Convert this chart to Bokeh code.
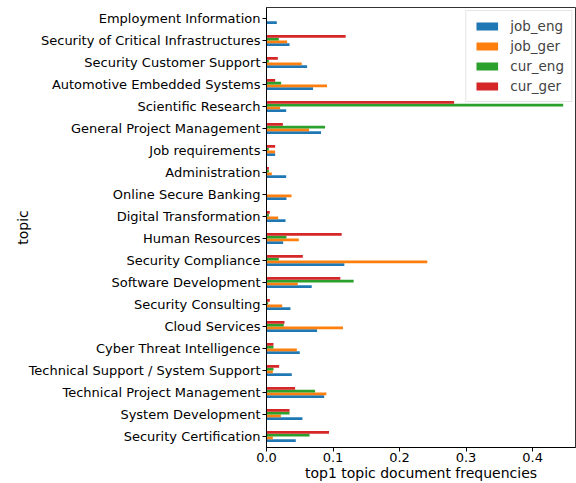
from bokeh.plotting import figure
from bokeh.models import ColumnDataSource, FactorRange, Range1d, FixedTicker, PrintfTickFormatter, Legend, LegendItem
from bokeh.transform import dodge
from bokeh.embed import file_html
from bokeh.resources import INLINE

topics = [
    "Employment Information",
    "Security of Critical Infrastructures",
    "Security Customer Support",
    "Automotive Embedded Systems",
    "Scientific Research",
    "General Project Management",
    "Job requirements",
    "Administration",
    "Online Secure Banking",
    "Digital Transformation",
    "Human Resources",
    "Security Compliance",
    "Software Development",
    "Security Consulting",
    "Cloud Services",
    "Cyber Threat Intelligence",
    "Technical Support / System Support",
    "Technical Project Management",
    "System Development",
    "Security Certification",
]

job_eng = [0.0155, 0.0346, 0.061, 0.070, 0.0296, 0.082, 0.013, 0.0296, 0.030, 0.0286,
           0.025, 0.117, 0.068, 0.036, 0.076, 0.050, 0.038, 0.0867, 0.054, 0.044]
job_ger = [0.0, 0.031, 0.053, 0.091, 0.0205, 0.064, 0.013, 0.008, 0.0376, 0.0175,
           0.0486, 0.2417, 0.047, 0.0236, 0.115, 0.0456, 0.0095, 0.090, 0.0216, 0.0095]
cur_eng = [0.0, 0.0185, 0.0035, 0.022, 0.446, 0.088, 0.0035, 0.0035, 0.0, 0.0035,
           0.030, 0.0185, 0.131, 0.0025, 0.026, 0.0105, 0.0105, 0.073, 0.0346, 0.0647]
cur_ger = [0.0, 0.119, 0.017, 0.013, 0.282, 0.0246, 0.013, 0.0035, 0.0, 0.005,
           0.113, 0.0546, 0.111, 0.005, 0.027, 0.0105, 0.019, 0.043, 0.0346, 0.094]

series = ["job_eng", "job_ger", "cur_eng", "cur_ger"]
colors = ["#1f77b4", "#ff7f0e", "#2ca02c", "#d62728"]
offsets = [-0.1875, -0.0625, 0.0625, 0.1875]
x_ticks = [0.0, 0.1, 0.2, 0.3, 0.4]

source = ColumnDataSource(dict(topic=topics, job_eng=job_eng, job_ger=job_ger,
                               cur_eng=cur_eng, cur_ger=cur_ger))

FONT = "DejaVu Sans"
p = figure(width=576, height=483, output_backend="svg", toolbar_location=None,
           y_range=FactorRange(*list(reversed(topics))),
           x_range=Range1d(0, 0.4645),
           min_border_top=7, min_border_right=1, min_border_bottom=10, min_border_left=266)

renderers = []
for name, col, off in zip(series, colors, offsets):
    r = p.hbar(y=dodge("topic", off, range=p.y_range), right=name, left=0, height=0.125,
               source=source, fill_color=col, line_color=None)
    renderers.append((name, r))

legend = Legend(items=[LegendItem(label=n, renderers=[r]) for n, r in renderers],
                location="top_right")
legend.label_text_font = FONT
legend.label_text_font_size = "13.5px"
legend.glyph_width = 27
legend.glyph_height = 10
legend.spacing = 4
legend.padding = 7
legend.margin = 3
legend.label_standoff = 10
legend.border_line_color = "#cccccc"
legend.background_fill_alpha = 0.8
p.add_layout(legend)

p.xgrid.visible = False
p.ygrid.visible = False
p.outline_line_color = "black"
p.outline_line_alpha = 0.8

p.xaxis.ticker = FixedTicker(ticks=x_ticks)
p.xaxis.formatter = PrintfTickFormatter(format="%.1f")
p.xaxis.axis_label = "top1 topic document frequencies"
p.yaxis.axis_label = "topic"
for ax in (p.xaxis, p.yaxis):
    ax.major_label_text_font = FONT
    ax.major_label_text_font_size = "13px"
    ax.major_label_text_color = "black"
    ax.axis_label_text_font = FONT
    ax.axis_label_text_font_size = "14px"
    ax.axis_label_text_font_style = "normal"
    ax.axis_label_text_color = "black"
    ax.minor_tick_line_color = None
    ax.major_tick_in = 0
    ax.major_tick_out = 4
    ax.axis_line_color = "black"
    ax.major_tick_line_color = "black"
p.yaxis.axis_label_standoff = -5
p.xaxis.axis_label_standoff = 0
p.xaxis.major_label_standoff = 1
p.yaxis.major_label_standoff = 2

open("out.html", "w").write(file_html(p, INLINE))
